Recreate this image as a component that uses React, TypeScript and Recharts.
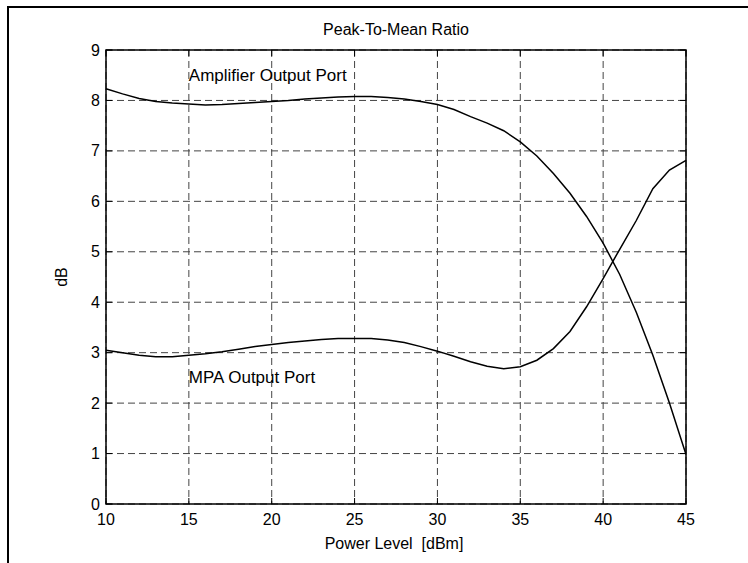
import {
  LineChart,
  Line,
  XAxis,
  YAxis,
  CartesianGrid,
  ReferenceArea,
  ReferenceDot,
} from "recharts";

const powerLevels = [
  10, 11, 12, 13, 14, 15, 16, 17, 18, 19, 20, 21, 22, 23, 24, 25, 26, 27,
  28, 29, 30, 31, 32, 33, 34, 35, 36, 37, 38, 39, 40, 41, 42, 43, 44, 45,
];

const amplifierPort = [
  8.23, 8.13, 8.04, 7.98, 7.95, 7.93, 7.91, 7.92, 7.94, 7.96, 7.98, 8.0,
  8.03, 8.05, 8.07, 8.08, 8.08, 8.06, 8.03, 7.98, 7.92, 7.82, 7.68, 7.55,
  7.4, 7.18, 6.9, 6.55, 6.16, 5.7, 5.17, 4.55, 3.8, 2.95, 2.0, 0.98,
];

const mpaPort = [
  3.05, 3.0, 2.95, 2.92, 2.92, 2.95, 2.98, 3.02, 3.07, 3.12, 3.16, 3.2,
  3.23, 3.26, 3.28, 3.28, 3.28, 3.25, 3.2, 3.12, 3.03, 2.93, 2.82, 2.73,
  2.68, 2.72, 2.85, 3.08, 3.42, 3.91, 4.47, 5.05, 5.62, 6.25, 6.62, 6.81,
];

const xTicks = [10, 15, 20, 25, 30, 35, 40, 45];
const yTicks = [0, 1, 2, 3, 4, 5, 6, 7, 8, 9];

const data = powerLevels.map((x, i) => ({
  x,
  amp: amplifierPort[i],
  mpa: mpaPort[i],
}));

// plot box in page pixels
const PLOT = { left: 106, top: 50, right: 686, bottom: 504 };
const Y_AXIS_W = 40;
const X_AXIS_H = 30;
const FONT = "'Liberation Sans', Arial, Helvetica, sans-serif";

function XTick(props: any) {
  const x = props.x;
  return (
    <g>
      <line x1={x} y1={PLOT.bottom} x2={x} y2={PLOT.bottom - 6} stroke="#000" />
      <line x1={x} y1={PLOT.top} x2={x} y2={PLOT.top + 6} stroke="#000" />
      <text
        x={x}
        y={PLOT.bottom + 15}
        textAnchor="middle"
        dominantBaseline="central"
        fontSize={16}
        fontFamily={FONT}
        fill="#000"
      >
        {props.payload.value}
      </text>
    </g>
  );
}

function YTick(props: any) {
  const y = props.y;
  return (
    <g>
      <line x1={PLOT.left} y1={y} x2={PLOT.left + 6} y2={y} stroke="#000" />
      <line x1={PLOT.right} y1={y} x2={PLOT.right - 6} y2={y} stroke="#000" />
      <text
        x={PLOT.left - 6}
        y={y}
        textAnchor="end"
        dominantBaseline="central"
        fontSize={16}
        fontFamily={FONT}
        fill="#000"
      >
        {props.payload.value}
      </text>
    </g>
  );
}

function note(label: string) {
  return (p: any) => (
    <text
      x={p.cx}
      y={p.cy}
      dominantBaseline="central"
      fontSize={17}
      fontFamily={FONT}
      fill="#000"
    >
      {label}
    </text>
  );
}

export default function App() {
  return (
    <div
      style={{
        position: "absolute",
        left: 0,
        top: 0,
        width: 748,
        height: 563,
        background: "#fff",
        fontFamily: FONT,
      }}
    >
      <div
        style={{
          position: "absolute",
          left: 7,
          top: 6,
          width: 741,
          height: 557,
          borderTop: "2px solid #000",
          borderLeft: "2px solid #000",
          boxSizing: "border-box",
        }}
      />
      <div
        style={{
          position: "absolute",
          left: 0,
          width: 792,
          top: 19,
          textAlign: "center",
          fontSize: 16,
          lineHeight: "22px",
        }}
      >
        Peak-To-Mean Ratio
      </div>
      <div
        style={{
          position: "absolute",
          left: 0,
          width: 788,
          top: 533,
          textAlign: "center",
          fontSize: 16,
          lineHeight: "22px",
          whiteSpace: "pre",
        }}
      >
        {"Power Level  [dBm]"}
      </div>
      <div
        style={{
          position: "absolute",
          left: 62,
          top: 277,
          transform: "translate(-50%, -50%) rotate(-90deg)",
          fontSize: 16,
          lineHeight: "22px",
        }}
      >
        dB
      </div>
      <div style={{ position: "absolute", left: 0, top: 0 }}>
        <LineChart
          width={748}
          height={563}
          data={data}
          margin={{
            top: PLOT.top,
            right: 748 - PLOT.right,
            bottom: 563 - PLOT.bottom - X_AXIS_H,
            left: PLOT.left - Y_AXIS_W,
          }}
        >
          <CartesianGrid
            stroke="#444"
            strokeDasharray="7 4"
            horizontalValues={yTicks}
            verticalValues={xTicks}
          />
          <XAxis
            dataKey="x"
            type="number"
            domain={[10, 45]}
            ticks={xTicks}
            height={X_AXIS_H}
            axisLine={false}
            tickLine={false}
            tick={(p: any) => <XTick {...p} />}
            interval={0}
          />
          <YAxis
            type="number"
            domain={[0, 9]}
            ticks={yTicks}
            width={Y_AXIS_W}
            axisLine={false}
            tickLine={false}
            tick={(p: any) => <YTick {...p} />}
            interval={0}
          />
          <ReferenceArea
            x1={10}
            x2={45}
            y1={0}
            y2={9}
            fill="none"
            stroke="#000"
            strokeWidth={1.5}
          />
          <Line
            type="linear"
            dataKey="amp"
            stroke="#000"
            strokeWidth={1.5}
            dot={false}
            isAnimationActive={false}
          />
          <Line
            type="linear"
            dataKey="mpa"
            stroke="#000"
            strokeWidth={1.5}
            dot={false}
            isAnimationActive={false}
          />
          <ReferenceDot
            x={15}
            y={8.5}
            r={0}
            shape={note("Amplifier Output Port")}
          />
          <ReferenceDot
            x={15}
            y={2.5}
            r={0}
            shape={note("MPA Output Port")}
          />
        </LineChart>
      </div>
    </div>
  );
}
